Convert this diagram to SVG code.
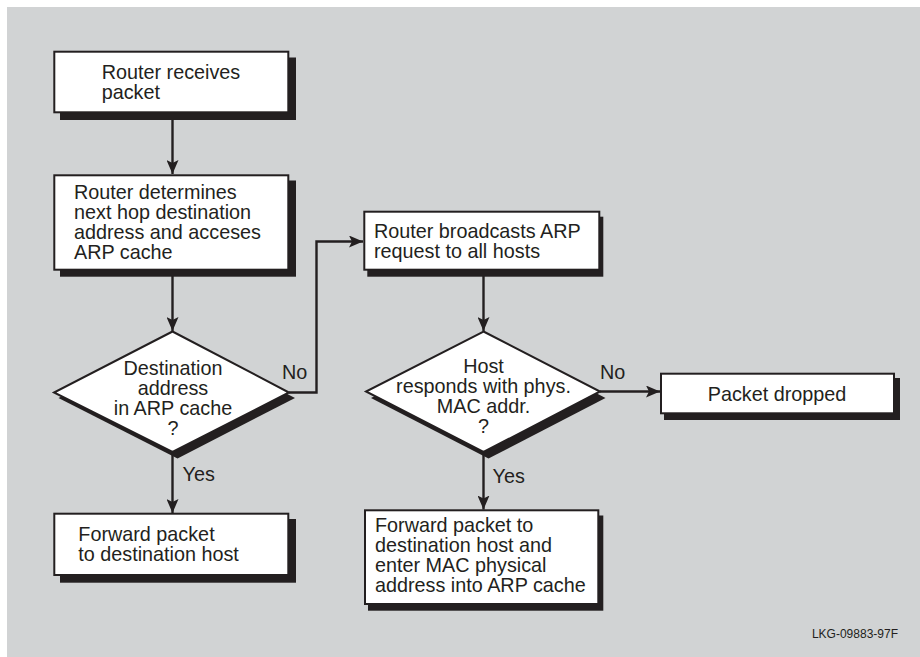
<svg xmlns="http://www.w3.org/2000/svg" width="920" height="657" viewBox="0 0 920 657">
<style>
text{font-family:"Liberation Sans",Arial,sans-serif;font-size:19.8px;fill:#231f20}
.mid{text-anchor:middle}
.box{fill:#fff;stroke:#231f20;stroke-width:2}
.sh{fill:#231f20}
.ln{fill:none;stroke:#231f20;stroke-width:2.4}
.small{font-size:12px}
</style>
<defs>
<marker id="ah" markerUnits="userSpaceOnUse" markerWidth="14" markerHeight="12" refX="14" refY="6" orient="auto">
<path d="M0,0 L14,6 L0,12 L3,6 z" fill="#231f20"/>
</marker>
</defs>
<rect x="7" y="7" width="913" height="650" fill="#d1d3d4"/>

<g id="connectors">
<path class="ln" d="M172.5,113 V174" marker-end="url(#ah)"/>
<path class="ln" d="M172.5,271 V331" marker-end="url(#ah)"/>
<path class="ln" d="M289,392.5 H316.5 V241.5 H363" marker-end="url(#ah)"/>
<path class="ln" d="M483.5,271 V331" marker-end="url(#ah)"/>
<path class="ln" d="M600,391.5 H660" marker-end="url(#ah)"/>
<path class="ln" d="M172.5,452 V513" marker-end="url(#ah)"/>
<path class="ln" d="M483.5,452 V509.5" marker-end="url(#ah)"/>
<text x="282" y="379">No</text>
<text x="182.5" y="481">Yes</text>
<text x="600" y="379">No</text>
<text x="492.5" y="483">Yes</text>
</g>

<g id="n1">
<rect class="sh" x="60" y="57.5" width="236" height="62.5"/>
<rect class="box" x="54.3" y="51.7" width="234" height="60.6"/>
<text x="101.7" y="79">Router receives</text>
<text x="101.7" y="99">packet</text>
</g>

<g id="n2">
<rect class="sh" x="60" y="180.5" width="236" height="96.2"/>
<rect class="box" x="54.3" y="175.3" width="234" height="94.4"/>
<text x="74" y="199">Router determines</text>
<text x="74" y="219">next hop destination</text>
<text x="74" y="239">address and acceses</text>
<text x="74" y="259">ARP cache</text>
</g>

<g id="n3">
<polygon class="sh" points="177.5,337 295,398 177.5,458.5 58.5,398"/>
<polygon class="box" points="172.5,331.5 289,392.5 172.5,452 54,392.5"/>
<text class="mid" x="173" y="375">Destination</text>
<text class="mid" x="173" y="395">address</text>
<text class="mid" x="173" y="415">in ARP cache</text>
<text class="mid" x="173" y="435">?</text>
</g>

<g id="n4">
<rect class="sh" x="367.3" y="216.7" width="236" height="60"/>
<rect class="box" x="364.3" y="211.7" width="235" height="58"/>
<text x="374" y="238.3">Router broadcasts ARP</text>
<text x="374" y="258.3">request to all hosts</text>
</g>

<g id="n5">
<polygon class="sh" points="488.5,337 605.5,398 488.5,458.5 371,398"/>
<polygon class="box" points="483.5,331.5 600,391.5 483.5,452 366,391.5"/>
<text class="mid" x="483.5" y="372.7">Host</text>
<text class="mid" x="483.5" y="392.7">responds with phys.</text>
<text class="mid" x="483.5" y="412.7">MAC addr.</text>
<text class="mid" x="483.5" y="432.7">?</text>
</g>

<g id="n6">
<rect class="sh" x="664" y="378" width="236" height="42"/>
<rect class="box" x="661" y="373.7" width="233" height="39.6"/>
<text class="mid" x="777" y="400.7">Packet dropped</text>
</g>

<g id="n7">
<rect class="sh" x="60" y="519" width="236" height="63.7"/>
<rect class="box" x="54.3" y="513.7" width="234" height="61.3"/>
<text x="78.3" y="540.7">Forward packet</text>
<text x="78.3" y="560.7">to destination host</text>
</g>

<g id="n8">
<rect class="sh" x="368" y="515.5" width="235.3" height="95.2"/>
<rect class="box" x="365" y="510.3" width="233.3" height="93.7"/>
<text x="375" y="531.7">Forward packet to</text>
<text x="375" y="551.7">destination host and</text>
<text x="375" y="571.7">enter MAC physical</text>
<text x="375" y="591.7">address into ARP cache</text>
</g>

<text class="small" x="898" y="638.3" text-anchor="end">LKG-09883-97F</text>
</svg>
